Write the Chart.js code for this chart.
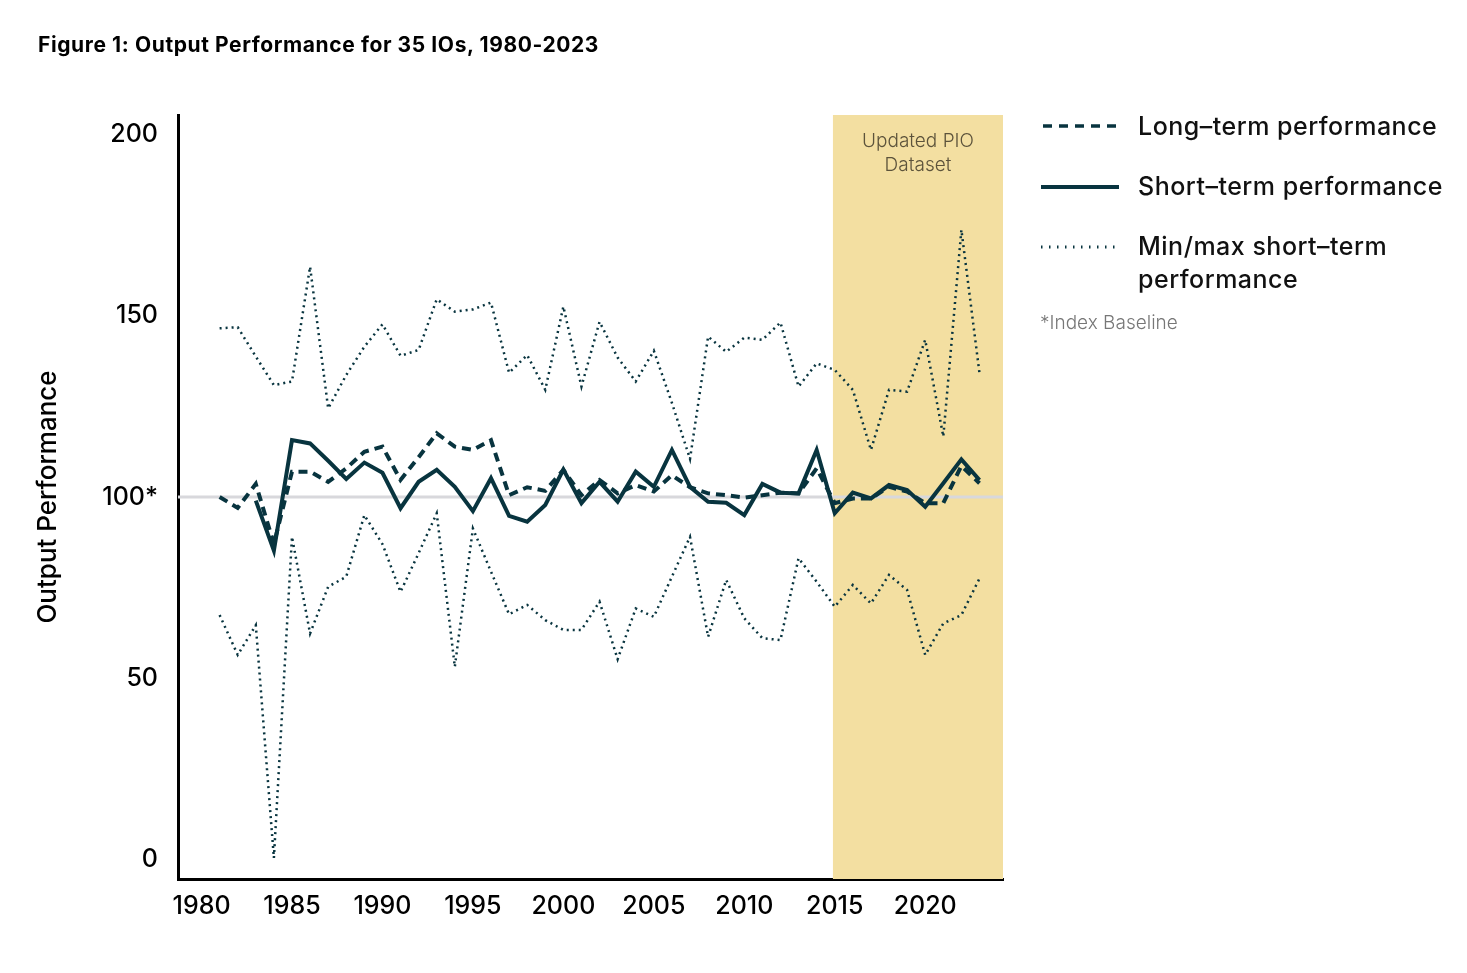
<!DOCTYPE html>
<html>
<head>
<meta charset="utf-8">
<script src="https://cdn.jsdelivr.net/npm/chart.js@4"></script>
<style>
  body { margin: 0; background: #fff; font-family: Inter, "Noto Sans", sans-serif; }
  #wrap { position: relative; width: 1467px; height: 973px; }
  #title { position: absolute; left: 38px; top: 32px; font-size: 21px; font-weight: 700; color: #000; letter-spacing: 0.6px; }
  .band-label { position: absolute; left: 833px; width: 170px; text-align: center; font-size: 19px; font-weight: 300; color: #5c533b; line-height: 24px; top: 129px; }
  .leg { position: absolute; left: 1040px; font-size: 25px; font-weight: 500; color: #111; letter-spacing: 0.5px; }
  .leg svg { position: absolute; left: 0; }
  .leg span { position: absolute; left: 98px; white-space: nowrap; line-height: 33px; }
  #note { position: absolute; left: 1040px; top: 311px; font-size: 19px; font-weight: 300; color: #777; }
</style>
</head>
<body>
<div id="wrap">
  <canvas id="perfChart" width="1467" height="973"></canvas>
  <div id="title">Figure 1: Output Performance for 35 IOs, 1980-2023</div>
  <div class="band-label">Updated PIO<br>Dataset</div>
  <div class="leg" style="top:110px">
    <svg width="80" height="34"><line x1="3" y1="16" x2="80" y2="16" stroke="#08343f" stroke-width="3.5" stroke-dasharray="9 7"/></svg>
    <span>Long–term performance</span>
  </div>
  <div class="leg" style="top:170px">
    <svg width="80" height="34"><line x1="1" y1="17" x2="79" y2="17" stroke="#08343f" stroke-width="4"/></svg>
    <span>Short–term performance</span>
  </div>
  <div class="leg" style="top:230px">
    <svg width="80" height="34"><line x1="1" y1="17" x2="80" y2="17" stroke="#08343f" stroke-width="3" stroke-dasharray="1.5 6.5"/></svg>
    <span>Min/max short–term<br>performance</span>
  </div>
  <div id="note">*Index Baseline</div>
</div>
<script>
// years 1981-2023
const years = [1981, 1982, 1983, 1984, 1985, 1986, 1987, 1988, 1989, 1990,
  1991, 1992, 1993, 1994, 1995, 1996, 1997, 1998, 1999, 2000,
  2001, 2002, 2003, 2004, 2005, 2006, 2007, 2008, 2009, 2010,
  2011, 2012, 2013, 2014, 2015, 2016, 2017, 2018, 2019, 2020,
  2021, 2022, 2023];

const longTerm = [100, 97, 103.6, 87, 107, 107, 104.2, 107.9, 112.5, 113.9,
  104.7, 111, 117.6, 113.9, 113, 115.7, 100.5, 102.7, 101.7, 107.5,
  100.5, 104.7, 101, 103.3, 101.5, 106, 102.7, 101, 100.5, 99.8,
  100.5, 101.2, 101, 107.9, 98.3, 99.6, 99.6, 102.8, 101.5, 98.3,
  98.3, 108.6, 103.8];

const shortTerm = [null, null, 99, 85.2, 115.7, 114.8, 110, 105, 109.5, 106.7,
  96.9, 104.2, 107.5, 102.8, 96.1, 105.2, 94.8, 93.2, 97.8, 107.6,
  98.3, 104.2, 98.7, 107, 102.8, 113, 102.8, 98.7, 98.4, 95,
  103.6, 101.2, 101, 113, 95.5, 101.2, 99.6, 103.3, 101.9, 97.3,
  103.8, 110.4, 104.7];

const maxShort = [146.6, 146.9, 138.8, 130.9, 131.9, 163.6, 124.5, 133.7, 141.5, 147.7,
  139, 140.6, 154.6, 151.2, 151.8, 153.7, 134.3, 139.2, 129.6, 152.6,
  130.5, 148.4, 138.5, 131.9, 140.4, 126, 110.5, 144.3, 140.1, 144,
  143.4, 148.2, 130.5, 136.9, 135.1, 129.6, 113, 129.6, 129.1, 143.4,
  116.7, 173.8, 134.2];

const minShort = [67.4, 56.4, 64.6, 0.3, 89, 62.3, 75.2, 78, 95, 87,
  73.8, 84.5, 95.5, 53.1, 91.3, 79.4, 67.6, 70.2, 66, 63.3,
  63.3, 71.1, 55.2, 69.2, 66.9, 78, 89, 61.4, 77.1, 66.5,
  61, 60.5, 83.1, 76.6, 69.7, 75.7, 70.6, 78.5, 74.3, 56.4,
  65.1, 67.4, 77.5];

const yTicks = [0, 50, 100, 150, 200];
const xTicks = [1980, 1985, 1990, 1995, 2000, 2005, 2010, 2015, 2020];
const baseline = 100;
const bandStart = 2014.9;

const ink = '#08343f';

function pts(arr) {
  return years.map((yr, i) => ({ x: yr, y: arr[i] }));
}

// shaded band + index baseline, drawn under the lines
const backdrop = {
  id: 'backdrop',
  beforeDatasetsDraw(chart) {
    const { ctx, chartArea, scales } = chart;
    const bx = scales.x.getPixelForValue(bandStart);
    ctx.save();
    ctx.fillStyle = '#f3dfa1';
    ctx.fillRect(bx, chartArea.top, chartArea.right - bx, chartArea.bottom - chartArea.top);
    const by = scales.y.getPixelForValue(baseline);
    ctx.strokeStyle = '#d8d8dc';
    ctx.lineWidth = 3;
    ctx.beginPath();
    ctx.moveTo(chartArea.left, by);
    ctx.lineTo(chartArea.right, by);
    ctx.stroke();
    ctx.restore();
  }
};

const ctx = document.getElementById('perfChart').getContext('2d');
new Chart(ctx, {
  type: 'line',
  data: {
    datasets: [
      { label: 'Max', data: pts(maxShort), borderColor: ink, borderWidth: 2.5, borderDash: [2, 4], pointRadius: 0, tension: 0 },
      { label: 'Min', data: pts(minShort), borderColor: ink, borderWidth: 2.5, borderDash: [2, 4], pointRadius: 0, tension: 0 },
      { label: 'Long-term performance', data: pts(longTerm), borderColor: ink, borderWidth: 4, borderDash: [9, 6], pointRadius: 0, tension: 0 },
      { label: 'Short-term performance', data: pts(shortTerm), borderColor: ink, borderWidth: 4, pointRadius: 0, tension: 0, spanGaps: false }
    ]
  },
  options: {
    responsive: false,
    animation: false,
    layout: { padding: { left: 33, top: 115, right: 464, bottom: 34 } },
    plugins: { legend: { display: false }, tooltip: { enabled: false } },
    scales: {
      x: {
        type: 'linear',
        min: 1978.7,
        max: 2024.3,
        afterBuildTicks: (scale) => { scale.ticks = xTicks.map(v => ({ value: v })); },
        afterFit: (scale) => { scale.height = 60; },
        grid: { display: false, drawTicks: false, tickLength: 0 },
        border: { display: true, color: '#000', width: 3 },
        ticks: {
          padding: 12,
          color: '#000',
          font: { family: 'Inter', size: 25, weight: 500 },
          maxRotation: 0,
          callback: (v) => String(v)
        }
      },
      y: {
        min: -5.5,
        max: 205.5,
        afterBuildTicks: (scale) => { scale.ticks = yTicks.map(v => ({ value: v })); },
        afterFit: (scale) => { scale.width = 145; },
        grid: { display: false, drawTicks: false, tickLength: 0 },
        border: { display: true, color: '#000', width: 3 },
        title: {
          display: true,
          text: 'Output Performance',
          color: '#000',
          font: { family: 'Inter', size: 26, weight: 500 },
          padding: { top: 0, bottom: 0 }
        },
        ticks: {
          padding: 20,
          color: '#000',
          font: { family: 'Inter', size: 25, weight: 500 },
          callback: (v) => (v === baseline ? '100*' : String(v))
        }
      }
    }
  },
  plugins: [backdrop]
});
</script>
</body>
</html>
